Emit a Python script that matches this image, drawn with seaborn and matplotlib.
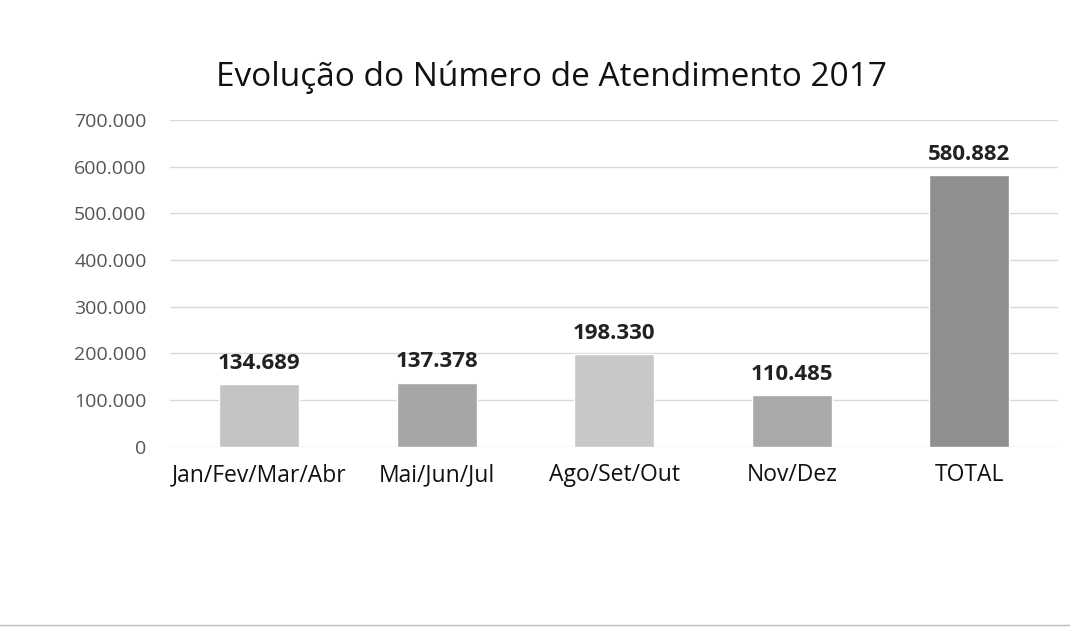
import matplotlib
matplotlib.use("Agg")
import matplotlib.pyplot as plt
import seaborn as sns
import pandas as pd
from matplotlib.ticker import FuncFormatter

periodos = ["Jan/Fev/Mar/Abr", "Mai/Jun/Jul", "Ago/Set/Out", "Nov/Dez", "TOTAL"]
atendimentos = [134689, 137378, 198330, 110485, 580882]
cores = ["#c4c4c4", "#a6a6a6", "#c8c8c8", "#a9a9a9", "#8f8f8f"]
y_ticks = [0, 100000, 200000, 300000, 400000, 500000, 600000, 700000]

sns.set_theme(style="white")
plt.rcParams["font.family"] = ["Open Sans", "DejaVu Sans"]


def milhar(v):
    return f"{int(v):,}".replace(",", ".")


df = pd.DataFrame({"periodo": periodos, "valor": atendimentos})

fig = plt.figure(figsize=(10.7, 6.41), dpi=100)
ax = fig.add_axes([0.159, 0.303, 0.83, 0.51])

sns.barplot(
    data=df,
    x="periodo",
    y="valor",
    hue="periodo",
    palette=cores,
    legend=False,
    width=0.45,
    ax=ax,
)

for i, v in enumerate(atendimentos):
    ax.text(i, v + 22000, milhar(v), ha="center", va="bottom",
            fontsize=16, fontweight="bold", color="#222222")

ax.set_ylim(0, 700000)
ax.set_yticks(y_ticks)
ax.yaxis.set_major_formatter(FuncFormatter(lambda v, p: milhar(v)))
ax.tick_params(axis="y", labelsize=14, labelcolor="#555555", length=0, pad=17)
ax.tick_params(axis="x", labelsize=16.5, labelcolor="#111111", length=0, pad=12)
ax.grid(axis="y", color="#d9d9d9", linewidth=1)
ax.set_axisbelow(True)
for s in ax.spines.values():
    s.set_visible(False)
ax.set_xlabel("")
ax.set_ylabel("")

fig.text(0.515, 0.88, "Evolução do Número de Atendimento 2017",
         ha="center", va="center", fontsize=24, color="#111111")

fig.add_artist(plt.Line2D([0.0, 1.0], [0.025, 0.025], color="#bbbbbb", linewidth=1))

fig.savefig("out.png", dpi=100)
